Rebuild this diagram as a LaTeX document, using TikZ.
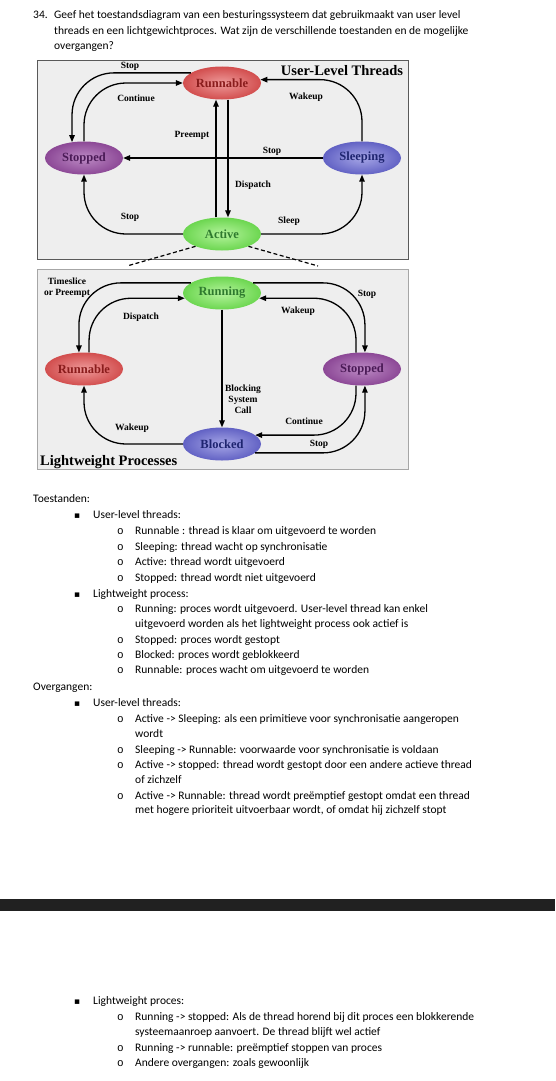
\documentclass[tikz,border=0pt]{standalone}
\usepackage{fontspec}
\setmainfont{Carlito}
\newfontfamily\diagfont{Liberation Serif}
\newfontfamily\markfont{DejaVu Sans}
\newfontfamily\ringfont{Liberation Mono}
\usetikzlibrary{shapes.geometric,arrows.meta}
\definecolor{boxgray}{HTML}{EEEEEE}
\definecolor{redin}{HTML}{EE9A9A}
\definecolor{redout}{HTML}{D24E4E}
\definecolor{redtext}{HTML}{8A1C1C}
\definecolor{purin}{HTML}{BC8AC4}
\definecolor{purout}{HTML}{8C4896}
\definecolor{purtext}{HTML}{4A1A56}
\definecolor{bluin}{HTML}{A6A6E6}
\definecolor{bluout}{HTML}{6262C4}
\definecolor{blutext}{HTML}{1E2470}
\definecolor{grnin}{HTML}{B4F49C}
\definecolor{grnout}{HTML}{6CD650}
\definecolor{grntext}{HTML}{2E7A2E}
\tikzstyle{stnode} = [ellipse, minimum width=78pt, minimum height=33pt, inner sep=0pt,
    shading=radial, font=\diagfont\bfseries\fontsize{12.5}{13}\selectfont]
\tikzstyle{redst} = [inner color=redin, outer color=redout, text=redtext]
\tikzstyle{purst} = [inner color=purin, outer color=purout, text=purtext]
\tikzstyle{blust} = [inner color=bluin, outer color=bluout, text=blutext]
\tikzstyle{grnst} = [inner color=grnin, outer color=grnout, text=grntext]
\tikzstyle{trans} = [-{Triangle[length=7pt,width=5.5pt]}, line width=1.3pt, rounded corners=42pt]
\tikzstyle{elabel} = [font=\diagfont\bfseries\fontsize{9.5}{11}\selectfont, inner sep=0pt, align=center]
\tikzstyle{boxtitle} = [font=\diagfont\bfseries\fontsize{14.5}{15}\selectfont, inner sep=0pt]
\tikzstyle{bodytext} = [anchor=base west, inner sep=0pt, font=\fontsize{11.5}{14}\selectfont]
\tikzstyle{squaremark} = [anchor=base west, inner sep=0pt, font=\markfont\fontsize{9}{9}\selectfont]
\tikzstyle{ringmark} = [anchor=base west, inner sep=0pt, font=\ringfont\fontsize{11}{11}\selectfont]

\begin{document}
\begin{tikzpicture}[x=1pt,y=1pt]
\useasboundingbox (0,0) rectangle (555,-1081);

% question
\node[bodytext] (qnum) at (33,-19) {34.};
\node[bodytext] (q1) at (54,-19) {Geef het toestandsdiagram van een besturingssysteem dat gebruikmaakt van user level};
\node[bodytext] (q2) at (54,-35) {threads en een lichtgewichtproces. Wat zijn de verschillende toestanden en de mogelijke};
\node[bodytext] (q3) at (54,-50) {overgangen?};

% user-level threads
\draw[draw=black!65, fill=boxgray, line width=0.8pt] (37,-60) rectangle (408,-259);
\node[boxtitle] (ulttitle) at (342,-71) {User-Level Threads};
\node[stnode, redst] (urun) at (222,-83) {Runnable};
\node[stnode, purst] (ustop) at (84,-158) {Stopped};
\node[stnode, blust] (usleep) at (362,-158) {Sleeping};
\node[stnode, grnst] (uact) at (222,-234) {Active};

\draw[trans] (urun.162) -| (ustop.127);
\draw[trans] (ustop.north) |- (urun.west);
\draw[trans] (usleep.north) |- (urun.5);
\draw[trans] (usleep.west) -- (ustop.east);
\draw[trans] ([xshift=-6pt]uact.north) -- ([xshift=-6pt]urun.south);
\draw[trans] ([xshift=6pt]urun.south) -- ([xshift=6pt]uact.north);
\draw[trans] (uact.west) -| (ustop.south);
\draw[trans] (uact.east) -| (usleep.south);

\node[elabel] (lstopa) at (130,-66) {Stop};
\node[elabel] (lcont) at (136,-98) {Continue};
\node[elabel] (lwake) at (306,-97) {Wakeup};
\node[elabel] (lpre) at (192,-135) {Preempt};
\node[elabel] (lstopb) at (272,-151) {Stop};
\node[elabel] (ldisp) at (253,-185) {Dispatch};
\node[elabel] (lstopc) at (130,-217) {Stop};
\node[elabel] (lsleep) at (289,-221) {Sleep};

\coordinate (dashl) at (127,-266);
\coordinate (dashr) at (318,-266);
\draw[dash pattern=on 4pt off 2.5pt, line width=1.2pt] (uact.205) -- (dashl);
\draw[dash pattern=on 4pt off 2.5pt, line width=1.2pt] (uact.335) -- (dashr);

% lightweight processes
\draw[draw=black!35, fill=boxgray, line width=0.8pt] (37,-269) rectangle (408,-469);
\node[boxtitle, anchor=base west] (lwptitle) at (40,-465) {Lightweight Processes};
\node[stnode, grnst] (lrun) at (222,-293) {Running};
\node[stnode, redst] (lrbl) at (84,-369) {Runnable};
\node[stnode, purst] (lstop) at (362,-369) {Stopped};
\node[stnode, blust] (lblk) at (222,-444) {Blocked};

\draw[trans] (lrun.162) -| (lrbl.107);
\draw[trans] (lrbl.73) |- (lrun.188);
\draw[trans] (lrun.18) -| (lstop.80);
\draw[trans] (lstop.110) |- (lrun.352);
\draw[trans] (lrun.south) -- (lblk.north);
\draw[trans] (lblk.west) -| (lrbl.south);
\draw[trans] (lstop.250) |- (lblk.15);
\draw[trans] (lblk.345) -| (lstop.280);

\node[elabel] (ltime) at (67,-288) {Timeslice\\or Preempt};
\node[elabel] (ldispb) at (141,-317) {Dispatch};
\node[elabel] (lstopd) at (367,-294) {Stop};
\node[elabel] (lwakeb) at (298,-311) {Wakeup};
\node[elabel] (lblock) at (243,-399) {Blocking\\System\\Call};
\node[elabel] (lcontb) at (304,-421) {Continue};
\node[elabel] (lwakec) at (132,-428) {Wakeup};
\node[elabel] (lstope) at (319,-444) {Stop};

% toestanden
\node[bodytext] (toe) at (33,-502) {Toestanden:};
\node[squaremark] (m1) at (74,-518) {▪};
\node[bodytext] (toe1) at (93,-518) {User-level threads:};
\node[ringmark] (r1) at (117,-534) {o};
\node[bodytext] (toe1a) at (135,-534) {Runnable : thread is klaar om uitgevoerd te worden};
\node[ringmark] (r2) at (117,-550) {o};
\node[bodytext] (toe1b) at (135,-550) {Sleeping: thread wacht op synchronisatie};
\node[ringmark] (r3) at (117,-565) {o};
\node[bodytext] (toe1c) at (135,-565) {Active: thread wordt uitgevoerd};
\node[ringmark] (r4) at (117,-581) {o};
\node[bodytext] (toe1d) at (135,-581) {Stopped: thread wordt niet uitgevoerd};
\node[squaremark] (m2) at (74,-597) {▪};
\node[bodytext] (toe2) at (93,-597) {Lightweight process:};
\node[ringmark] (r5) at (117,-612) {o};
\node[bodytext] (toe2a) at (135,-612) {Running: proces wordt uitgevoerd. User-level thread kan enkel};
\node[bodytext] (toe2ab) at (135,-627) {uitgevoerd worden als het lightweight process ook actief is};
\node[ringmark] (r6) at (117,-643) {o};
\node[bodytext] (toe2b) at (135,-643) {Stopped: proces wordt gestopt};
\node[ringmark] (r7) at (117,-658) {o};
\node[bodytext] (toe2c) at (135,-658) {Blocked: proces wordt geblokkeerd};
\node[ringmark] (r8) at (117,-673) {o};
\node[bodytext] (toe2d) at (135,-673) {Runnable: proces wacht om uitgevoerd te worden};

% overgangen
\node[bodytext] (ovg) at (33,-690) {Overgangen:};
\node[squaremark] (m3) at (74,-706) {▪};
\node[bodytext] (ovg1) at (93,-706) {User-level threads:};
\node[ringmark] (r9) at (117,-722) {o};
\node[bodytext] (ovg1a) at (135,-722) {Active -> Sleeping: als een primitieve voor synchronisatie aangeropen};
\node[bodytext] (ovg1ab) at (135,-737) {wordt};
\node[ringmark] (r10) at (117,-753) {o};
\node[bodytext] (ovg1b) at (135,-753) {Sleeping -> Runnable: voorwaarde voor synchronisatie is voldaan};
\node[ringmark] (r11) at (117,-768) {o};
\node[bodytext] (ovg1c) at (135,-768) {Active -> stopped: thread wordt gestopt door een andere actieve thread};
\node[bodytext] (ovg1cb) at (135,-783) {of zichzelf};
\node[ringmark] (r12) at (117,-799) {o};
\node[bodytext] (ovg1d) at (135,-799) {Active -> Runnable: thread wordt preëmptief gestopt omdat een thread};
\node[bodytext] (ovg1db) at (135,-813) {met hogere prioriteit uitvoerbaar wordt, of omdat hij zichzelf stopt};

\fill[black!87] (0,-899) rectangle (555,-911);

\node[squaremark] (m4) at (74,-1004) {▪};
\node[bodytext] (ovg2) at (93,-1004) {Lightweight proces:};
\node[ringmark] (r13) at (117,-1020) {o};
\node[bodytext] (ovg2a) at (135,-1020) {Running -> stopped: Als de thread horend bij dit proces een blokkerende};
\node[bodytext] (ovg2ab) at (135,-1035) {systeemaanroep aanvoert. De thread blijft wel actief};
\node[ringmark] (r14) at (117,-1051) {o};
\node[bodytext] (ovg2b) at (135,-1051) {Running -> runnable: preëmptief stoppen van proces};
\node[ringmark] (r15) at (117,-1066) {o};
\node[bodytext] (ovg2c) at (135,-1066) {Andere overgangen: zoals gewoonlijk};
\end{tikzpicture}
\end{document}
